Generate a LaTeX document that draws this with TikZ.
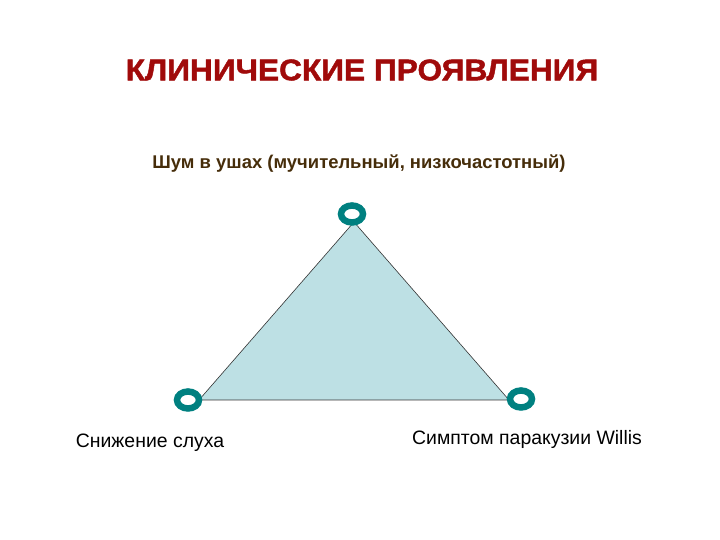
\documentclass[tikz,border=0pt]{standalone}
\usepackage{fontspec}
\setmainfont{Liberation Sans}
\newfontfamily\titlefont[FakeStretch=1.06, FakeBold=1.5]{Liberation Sans Bold}
\usetikzlibrary{shapes.geometric}

\definecolor{titleRed}{RGB}{160,10,10}
\definecolor{subBrown}{RGB}{70,45,10}
\definecolor{triFill}{RGB}{189,224,228}
\definecolor{ringTeal}{RGB}{0,128,128}

\begin{document}
\begin{tikzpicture}[x = 1bp, y = 1bp]
\tikzstyle{ringStyle} = [shape = ellipse, minimum width = 22bp, minimum height = 17bp, inner sep = 0pt, draw = ringTeal, line width = 6.5bp, fill = white]
\tikzstyle{labelStyle} = [inner sep = 0pt, font = \fontsize{19.5}{22}\selectfont]
\useasboundingbox (0,0) rectangle (720,540);
% title and symptoms
\node[inner sep = 0pt, text = titleRed, font = \fontsize{30}{34}\titlefont] (title) at (362,470) {КЛИНИЧЕСКИЕ ПРОЯВЛЕНИЯ};
\node[labelStyle, text = subBrown, font = \fontsize{18.5}{22}\selectfont\bfseries] (noise) at (359,376) {Шум в ушах (мучительный, низкочастотный)};
\node[labelStyle] (hearing) at (150,97) {Снижение слуха};
\node[labelStyle] (willis) at (527,101) {Симптом паракузии Willis};
% triangle
\coordinate (tA) at (354,318);
\coordinate (tB) at (199,140);
\coordinate (tC) at (509,140);
\filldraw[fill = triFill, draw = black!80, line width = 0.6bp] (tA) -- (tB) -- (tC) -- cycle;
\node[ringStyle] (top) at (352,326) {};
\node[ringStyle] (left) at (188,140) {};
\node[ringStyle] (right) at (521,141) {};
\end{tikzpicture}
\end{document}
